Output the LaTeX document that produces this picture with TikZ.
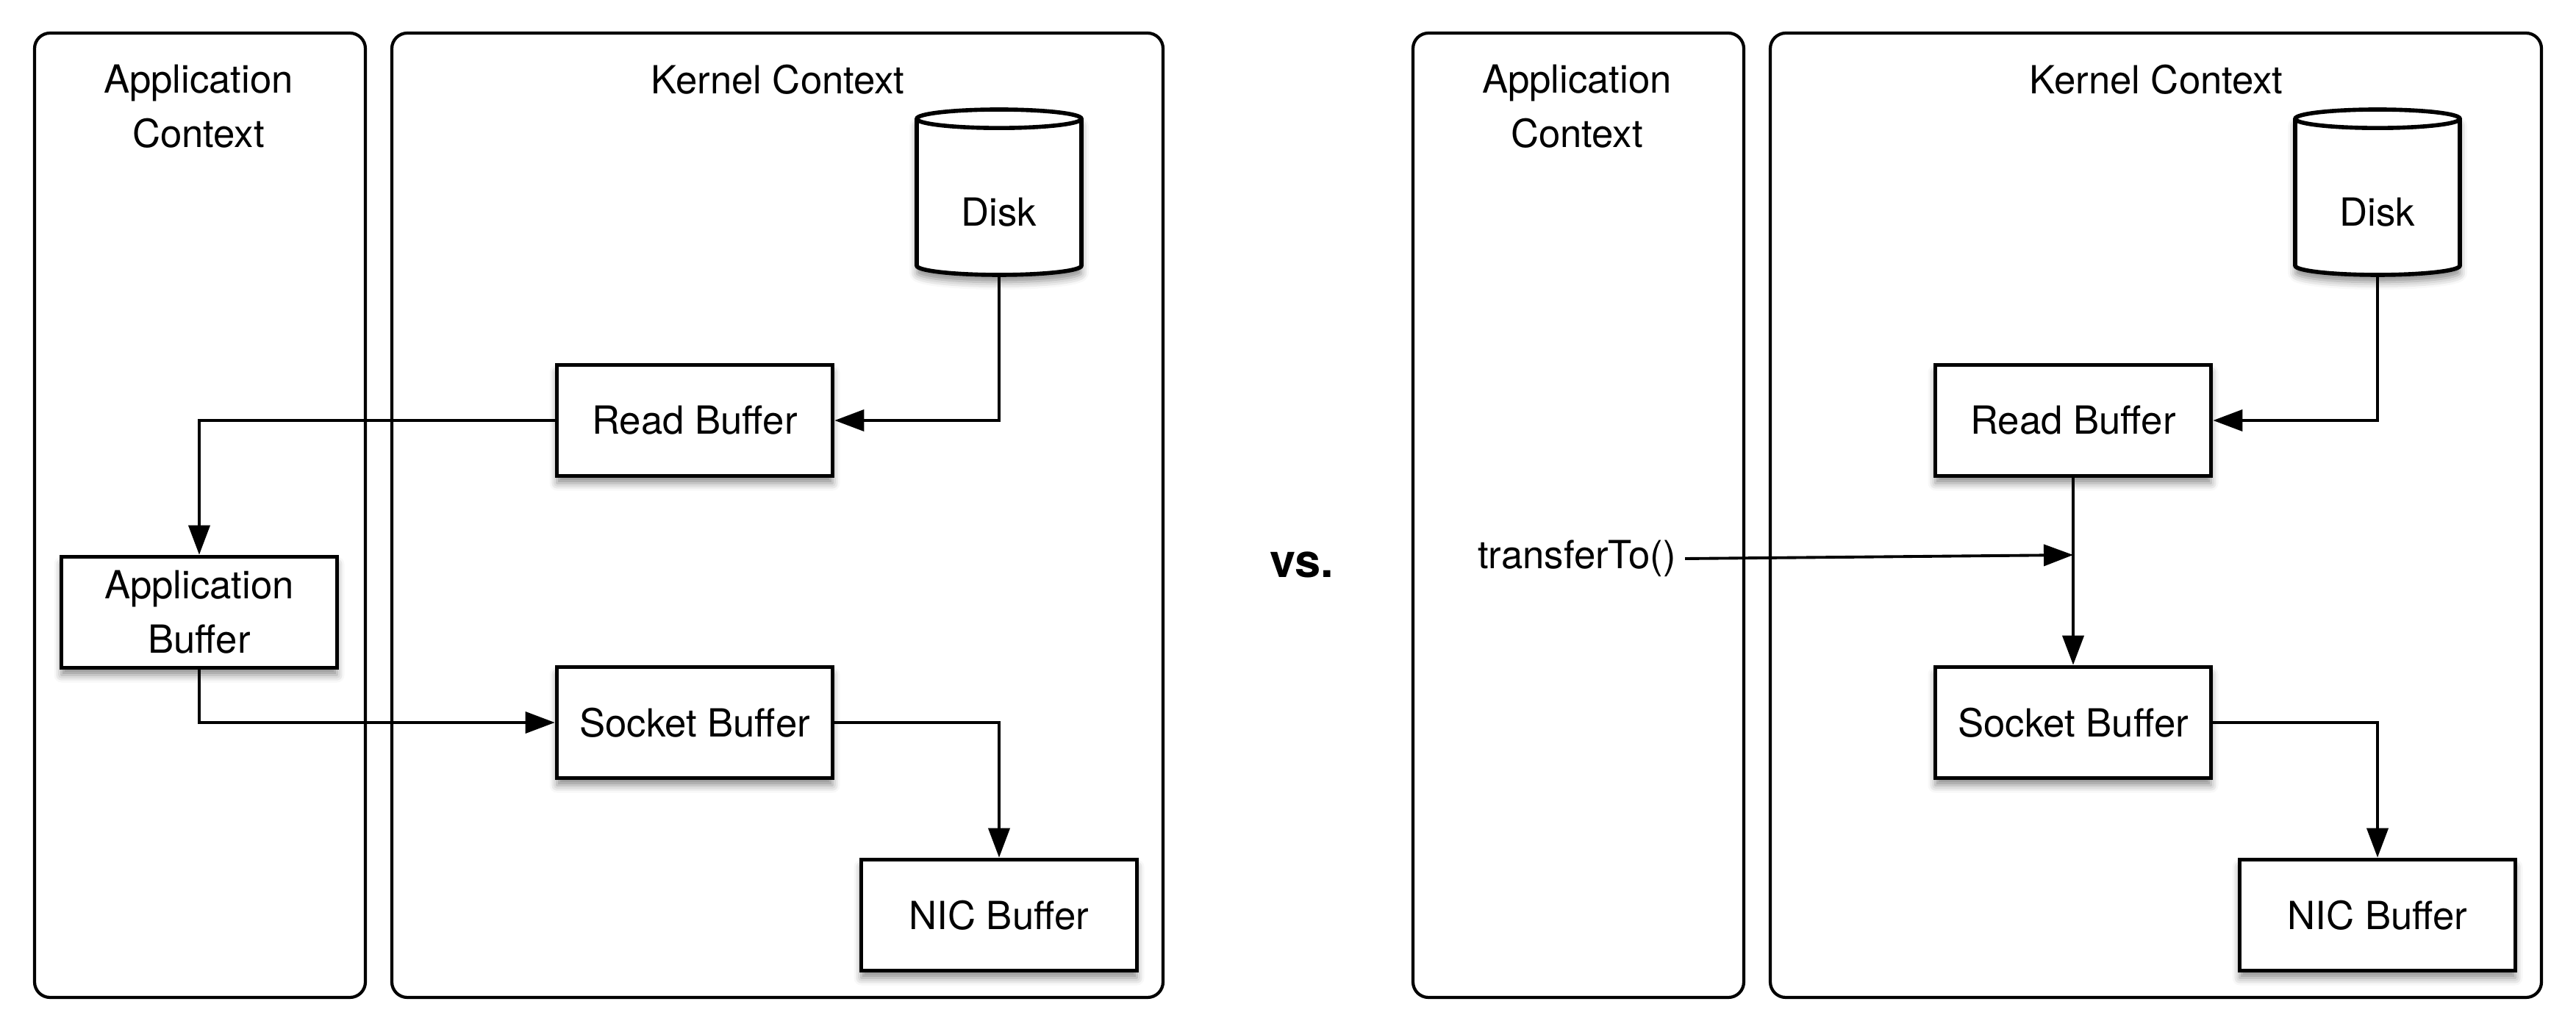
\documentclass[tikz,border=0pt]{standalone}
\usepackage{fontspec}
\setmainfont{TeX Gyre Heros}
\usetikzlibrary{arrows.meta}
\usetikzlibrary{shapes.geometric}
\usetikzlibrary{shadows.blur}

\begin{document}
\begin{tikzpicture}[
  every node/.style={font=\fontsize{15}{21}\selectfont},
  panel/.style={draw, line width=1.2pt, rounded corners=6pt,
    minimum width=4.5cm, minimum height=13.12cm},
  soft/.style={blur shadow={shadow xshift=0pt, shadow yshift=-1mm,
    shadow blur radius=1mm, shadow opacity=45}},
  buf/.style={draw, fill=white, line width=1.6pt, align=center,
    minimum width=3.75cm, minimum height=1.51cm, soft},
  disk/.style={cylinder, shape border rotate=90, aspect=0.2, draw,
    fill=white, line width=1.6pt, minimum width=2.24cm,
    minimum height=2.25cm, text height=0.72cm, text depth=0cm, soft},
  conn/.style={line width=1.1pt, -{Triangle[length=4mm,width=2.9mm]}}]
\useasboundingbox (0,0) rectangle (35.04,-14.04);
\def\dx{18.75}
% left: ordinary copy
\node[panel] (appL) at (2.72,-7.01) {};
\node[panel, minimum width=10.49cm] (kernL) at (10.575,-7.01) {};
\node[align=center] (appLtitle) at (2.70,-1.45) {Application\\Context};
\node (kernLtitle) at (10.58,-1.08) {Kernel Context};
\node[disk] (diskL) at (13.59,-2.72) {Disk};
\node[buf] (readL) at (9.45,-5.72) {Read Buffer};
\node[buf] (appbufL) at (2.71,-8.33) {Application\\Buffer};
\node[buf] (sockL) at (9.45,-9.83) {Socket Buffer};
\node[buf] (nicL) at (13.59,-12.45) {NIC Buffer};
\draw[conn] (diskL.south) |- (readL.east);
\draw[conn] (readL.west) -| (appbufL.north);
\draw[conn] (appbufL.south) |- (sockL.west);
\draw[conn] (sockL.east) -| (nicL.north);
%
\node[font=\fontsize{18}{22}\bfseries\selectfont] (vs) at (17.71,-7.68) {vs.};
%
% right: zero copy
\node[panel] (appR) at (2.72+\dx,-7.01) {};
\node[panel, minimum width=10.49cm] (kernR) at (10.575+\dx,-7.01) {};
\node[align=center] (appRtitle) at (2.70+\dx,-1.45) {Application\\Context};
\node (kernRtitle) at (10.58+\dx,-1.08) {Kernel Context};
\node[disk] (diskR) at (13.59+\dx,-2.72) {Disk};
\node[buf] (readR) at (9.45+\dx,-5.72) {Read Buffer};
\node[buf] (sockR) at (9.45+\dx,-9.83) {Socket Buffer};
\node[buf] (nicR) at (13.59+\dx,-12.45) {NIC Buffer};
\node (ttR) at (21.45,-7.60) {transferTo()};
\coordinate (tapR) at (9.45+\dx,-7.55);
\draw[conn] (diskR.south) |- (readR.east);
\draw[conn] (readR.south) -- (sockR.north);
\draw[conn] (ttR.east) -- (tapR);
\draw[conn] (sockR.east) -| (nicR.north);
\end{tikzpicture}
\end{document}
